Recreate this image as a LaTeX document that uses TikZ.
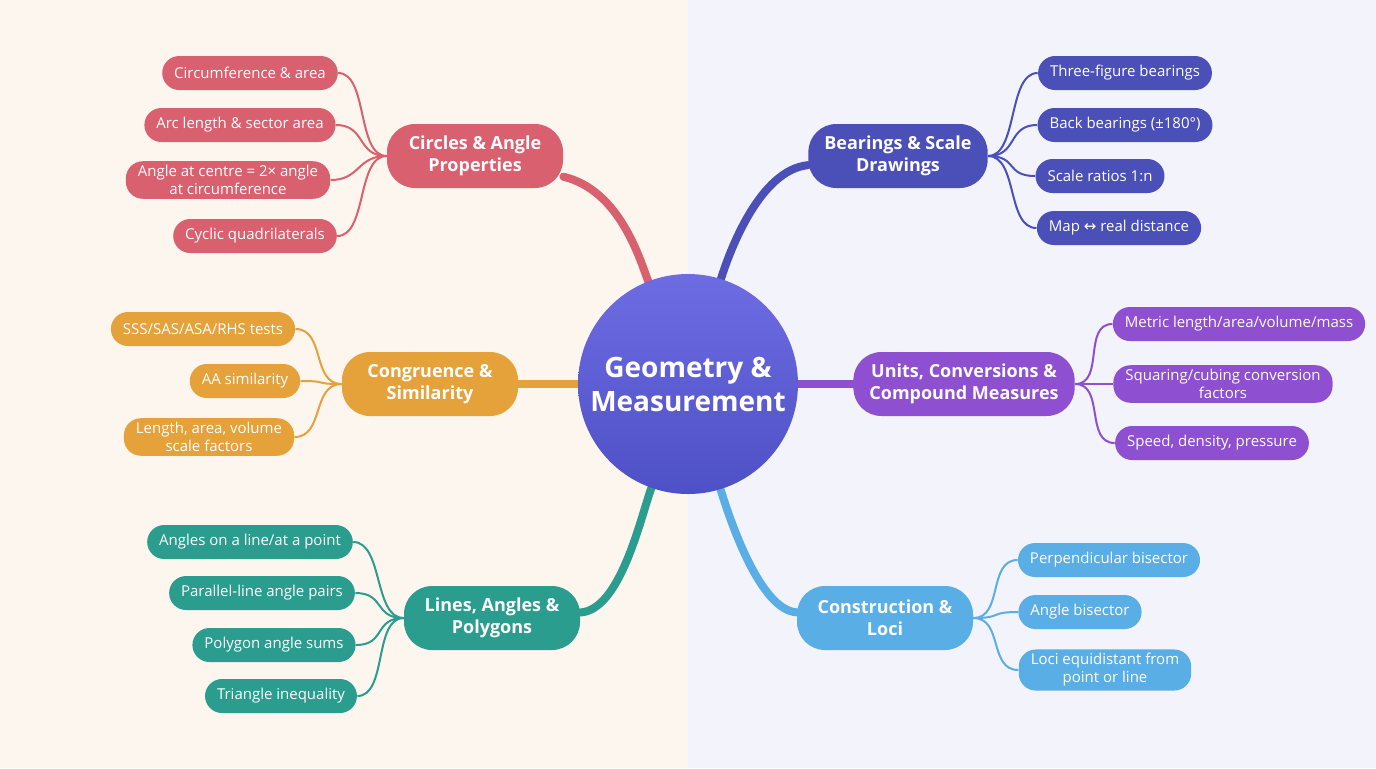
\documentclass[tikz,border=0pt]{standalone}
\usepackage{fontspec}
\setmainfont{Open Sans}
\newfontfamily\symf{DejaVu Sans}
\usetikzlibrary{backgrounds}
\definecolor{bgL}{HTML}{FDF6EE}
\definecolor{bgR}{HTML}{F3F3FB}
\definecolor{cR}{HTML}{D9606E}
\definecolor{cO}{HTML}{E5A23A}
\definecolor{cT}{HTML}{2A9D8F}
\definecolor{cI}{HTML}{4B4FB8}
\definecolor{cP}{HTML}{8E4FD0}
\definecolor{cB}{HTML}{5AAEE6}
\definecolor{cTop}{HTML}{6E6CE2}
\definecolor{cBot}{HTML}{4E50C6}
\tikzset{
 x=0.5pt,y=-0.5pt,
 leaf/.style={draw=none,fill=#1,text=white,rounded corners=8.5pt,minimum height=17pt,inner xsep=6pt,inner ysep=2pt,font=\fontsize{7.5}{9}\selectfont,align=center},
 br/.style={draw=none,fill=#1,text=white,rounded corners=14pt,minimum height=32pt,minimum width=88pt,inner xsep=8pt,font=\fontsize{9}{11}\selectfont\bfseries,align=center},
 lk/.style={draw=#1,line width=1pt},
 trunk/.style={draw=#1,line width=4pt,line cap=round},
}
\begin{document}
\begin{tikzpicture}
\useasboundingbox (0,0) rectangle (1376,768);
\node[circle,minimum size=110pt,top color=cTop,bottom color=cBot,draw=none,text=white,font=\fontsize{14}{17}\selectfont\bfseries,align=center] (c) at (688,384) {Geometry \&\\Measurement};
% branches
\node[br=cR] (b1) at (475,156) {Circles \& Angle\\Properties};
\node[br=cO] (b2) at (430,384) {Congruence \&\\Similarity};
\node[br=cT] (b3) at (492,618) {Lines, Angles \&\\Polygons};
\node[br=cI] (b4) at (898,156) {Bearings \& Scale\\Drawings};
\node[br=cP] (b5) at (964,384) {Units, Conversions \&\\Compound Measures};
\node[br=cB] (b6) at (885,618) {Construction \&\\Loci};
% leaves
\node[leaf=cR] (l11) at (250,73) {Circumference \& area};
\node[leaf=cR] (l12) at (240,125) {Arc length \& sector area};
\node[leaf=cR] (l13) at (228,180) {Angle at centre = 2× angle\\at circumference};
\node[leaf=cR] (l14) at (255,236) {Cyclic quadrilaterals};
\node[leaf=cO] (l21) at (203,329) {SSS/SAS/ASA/RHS tests};
\node[leaf=cO] (l22) at (245,381) {AA similarity};
\node[leaf=cO] (l23) at (209,437) {Length, area, volume\\scale factors};
\node[leaf=cT] (l31) at (250,542) {Angles on a line/at a point};
\node[leaf=cT] (l32) at (262,593) {Parallel-line angle pairs};
\node[leaf=cT] (l33) at (274,645) {Polygon angle sums};
\node[leaf=cT] (l34) at (281,696) {Triangle inequality};
\node[leaf=cI] (l41) at (1125,73) {Three-figure bearings};
\node[leaf=cI] (l42) at (1125,125) {Back bearings (±180°)};
\node[leaf=cI] (l43) at (1100,176) {Scale ratios 1:n};
\node[leaf=cI] (l44) at (1119,228) {Map {\symf ↔} real distance};
\node[leaf=cP] (l51) at (1239,324) {Metric length/area/volume/mass};
\node[leaf=cP] (l52) at (1223,384) {Squaring/cubing conversion\\factors};
\node[leaf=cP] (l53) at (1212,443) {Speed, density, pressure};
\node[leaf=cB] (l61) at (1109,560) {Perpendicular bisector};
\node[leaf=cB] (l62) at (1080,612) {Angle bisector};
\node[leaf=cB] (l63) at (1105,670) {Loci equidistant from\\point or line};
\begin{scope}[on background layer]
\fill[bgL] (0,0) rectangle (688,768);
\fill[bgR] (688,0) rectangle (1376,768);
\draw[trunk=cR] (c) .. controls (640,260) and (620,190) .. (b1);
\draw[trunk=cO] (c) -- (b2);
\draw[trunk=cT] (c) .. controls (640,520) and (620,610) .. (b3);
\draw[trunk=cI] (c) .. controls (730,250) and (760,170) .. (b4);
\draw[trunk=cP] (c) -- (b5);
\draw[trunk=cB] (c) .. controls (730,520) and (760,610) .. (b6);
\foreach \l in {l11,l12,l13,l14}{\draw[lk=cR] (b1.west) .. controls +(-30,0) and +(30,0) .. (\l.east);}
\foreach \l in {l21,l22,l23}{\draw[lk=cO] (b2.west) .. controls +(-30,0) and +(30,0) .. (\l.east);}
\foreach \l in {l31,l32,l33,l34}{\draw[lk=cT] (b3.west) .. controls +(-30,0) and +(30,0) .. (\l.east);}
\foreach \l in {l41,l42,l43,l44}{\draw[lk=cI] (b4.east) .. controls +(30,0) and +(-30,0) .. (\l.west);}
\foreach \l in {l51,l52,l53}{\draw[lk=cP] (b5.east) .. controls +(30,0) and +(-30,0) .. (\l.west);}
\foreach \l in {l61,l62,l63}{\draw[lk=cB] (b6.east) .. controls +(30,0) and +(-30,0) .. (\l.west);}
\end{scope}
\end{tikzpicture}
\end{document}
